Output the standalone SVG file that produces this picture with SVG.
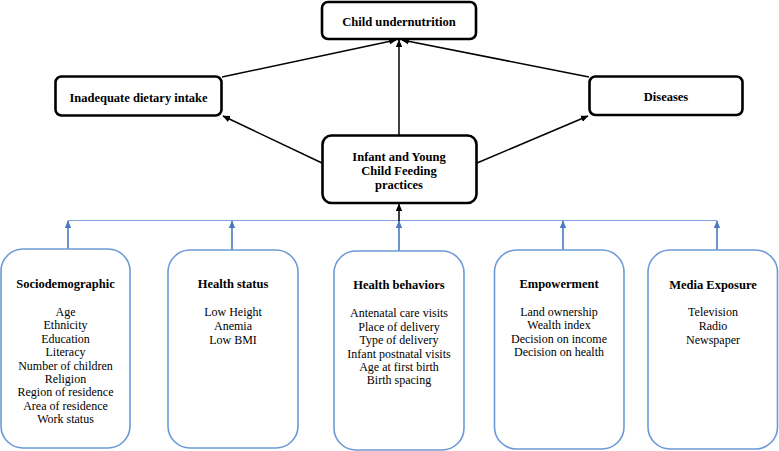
<svg xmlns="http://www.w3.org/2000/svg" width="779" height="451" viewBox="0 0 779 451">
<style>
.bk{fill:#fff;stroke:#000;stroke-width:2.6}
.bl{fill:#fff;stroke:#6d9ad6;stroke-width:1.6}
text{font-family:"Liberation Serif","Times New Roman",serif;fill:#000;text-anchor:middle}
.t{font-weight:bold;font-size:12.6px}
.h{font-weight:bold;font-size:12.5px}
.i{font-size:12px}
.ka{stroke:#000;stroke-width:1.5;fill:none}
.ba{stroke:#4a78c2;stroke-width:1.6;fill:none}
</style>
<defs>
<marker id="ak" markerWidth="8" markerHeight="8" refX="7" refY="4" orient="auto" markerUnits="userSpaceOnUse"><path d="M0,0.8 L7.5,4 L0,7.2 Z" fill="#000"/></marker>
<marker id="ab" markerWidth="8" markerHeight="8" refX="7" refY="4" orient="auto" markerUnits="userSpaceOnUse"><path d="M0,0.8 L7.5,4 L0,7.2 Z" fill="#4a78c2"/></marker>
</defs>
<g id="connectors">
<line class="ka" x1="222" y1="77" x2="396" y2="40" marker-end="url(#ak)"/>
<line class="ka" x1="399" y1="135" x2="399" y2="40" marker-end="url(#ak)"/>
<line class="ka" x1="589" y1="77" x2="402" y2="40" marker-end="url(#ak)"/>
<line class="ka" x1="322" y1="163" x2="223" y2="116" marker-end="url(#ak)"/>
<line class="ka" x1="477" y1="163" x2="588" y2="116" marker-end="url(#ak)"/>
<line x1="68" y1="220.5" x2="717" y2="220.5" stroke="#7fa3da" stroke-width="1.2"/>
<line class="ba" x1="68" y1="249" x2="68" y2="221" marker-end="url(#ab)"/>
<line class="ba" x1="232" y1="250" x2="232" y2="221" marker-end="url(#ab)"/>
<line class="ba" x1="399" y1="251" x2="399" y2="221" marker-end="url(#ab)"/>
<line class="ba" x1="563" y1="250" x2="563" y2="221" marker-end="url(#ab)"/>
<line class="ba" x1="717" y1="250" x2="717" y2="221" marker-end="url(#ab)"/>
<line class="ka" x1="399" y1="221" x2="399" y2="204" marker-end="url(#ak)"/>
</g>
<g id="child-undernutrition">
<rect class="bk" x="322" y="2" width="154" height="37" rx="6"/>
<text class="t" x="399" y="25.5">Child undernutrition</text>
</g>
<g id="inadequate-dietary-intake">
<rect class="bk" x="55.5" y="76.5" width="166" height="39" rx="6" stroke-width="3"/>
<text class="h" x="138.5" y="101.5">Inadequate dietary intake</text>
</g>
<g id="diseases">
<rect class="bk" x="589.5" y="76.5" width="153" height="38.5" rx="6" stroke-width="3"/>
<text class="h" x="666" y="101">Diseases</text>
</g>
<g id="iycf">
<rect class="bk" x="322.5" y="135.5" width="154" height="67.5" rx="9"/>
<text class="h" x="399" y="160.5">Infant and Young</text>
<text class="h" x="399" y="174.5">Child Feeding</text>
<text class="h" x="399" y="188.5">practices</text>
</g>
<g id="sociodemographic">
<rect class="bl" x="1" y="249" width="129" height="199" rx="22"/>
<text class="h" x="65.5" y="288">Sociodemographic</text>
<text class="i" x="65.5" y="316">Age</text>
<text class="i" x="65.5" y="329.4">Ethnicity</text>
<text class="i" x="65.5" y="342.8">Education</text>
<text class="i" x="65.5" y="356.2">Literacy</text>
<text class="i" x="65.5" y="369.6">Number of children</text>
<text class="i" x="65.5" y="383">Religion</text>
<text class="i" x="65.5" y="396.4">Region of residence</text>
<text class="i" x="65.5" y="409.8">Area of residence</text>
<text class="i" x="65.5" y="423.2">Work status</text>
</g>
<g id="health-status">
<rect class="bl" x="168" y="250" width="130" height="198" rx="22"/>
<text class="h" x="233" y="288">Health status</text>
<text class="i" x="233" y="316">Low Height</text>
<text class="i" x="233" y="330">Anemia</text>
<text class="i" x="233" y="344">Low BMI</text>
</g>
<g id="health-behaviors">
<rect class="bl" x="334" y="251" width="130" height="199" rx="22"/>
<text class="h" x="399" y="289">Health behaviors</text>
<text class="i" x="399" y="317.4">Antenatal care visits</text>
<text class="i" x="399" y="330.8">Place of delivery</text>
<text class="i" x="399" y="344.2">Type of delivery</text>
<text class="i" x="399" y="357.6">Infant postnatal visits</text>
<text class="i" x="399" y="371">Age at first birth</text>
<text class="i" x="399" y="384.4">Birth spacing</text>
</g>
<g id="empowerment">
<rect class="bl" x="494.5" y="250" width="129.5" height="199" rx="22"/>
<text class="h" x="559" y="288">Empowerment</text>
<text class="i" x="559" y="316">Land ownership</text>
<text class="i" x="559" y="329.4">Wealth index</text>
<text class="i" x="559" y="342.8">Decision on income</text>
<text class="i" x="559" y="356.2">Decision on health</text>
</g>
<g id="media-exposure">
<rect class="bl" x="648" y="250" width="129.5" height="199" rx="22"/>
<text class="h" x="713" y="288.5">Media Exposure</text>
<text class="i" x="713" y="316.4">Television</text>
<text class="i" x="713" y="329.8">Radio</text>
<text class="i" x="713" y="343.5">Newspaper</text>
</g>
</svg>
